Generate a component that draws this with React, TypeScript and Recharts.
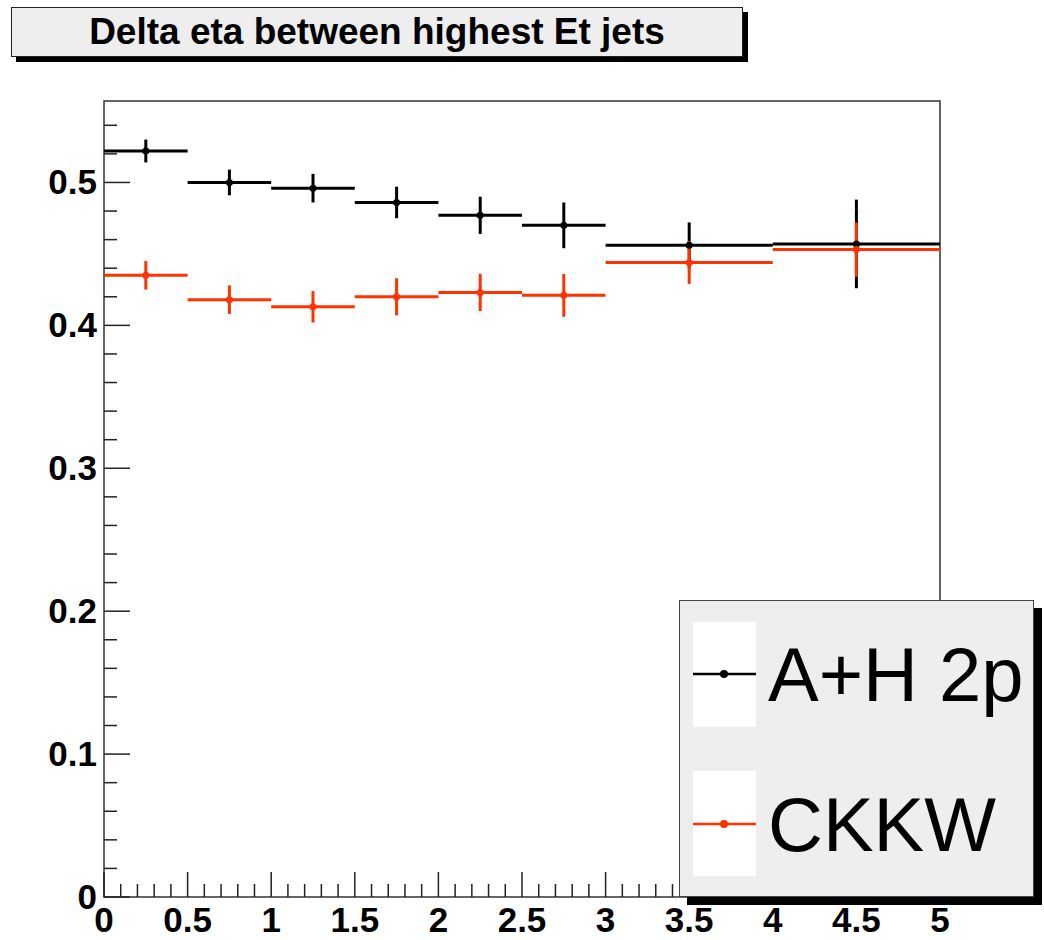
import { ComposedChart, Scatter, ErrorBar, XAxis, YAxis, ReferenceArea, Legend } from 'recharts';

// bin edges (variable width in the last two bins)
const binLow = [0, 0.5, 1, 1.5, 2, 2.5, 3, 4];
const binHigh = [0.5, 1, 1.5, 2, 2.5, 3, 4, 5];

const ahValues = [0.522, 0.5, 0.496, 0.486, 0.477, 0.47, 0.456, 0.457];
const ahErrors = [0.008, 0.009, 0.01, 0.011, 0.013, 0.016, 0.016, 0.031];

const ckkwValues = [0.435, 0.418, 0.413, 0.42, 0.423, 0.421, 0.444, 0.453];
const ckkwErrors = [0.01, 0.01, 0.011, 0.013, 0.013, 0.015, 0.015, 0.019];

const seriesNames = ['A+H 2p', 'CKKW'];
const seriesColors = ['#000000', '#ff3300'];

const xTicks = [
    0, 0.1, 0.2, 0.3, 0.4, 0.5, 0.6, 0.7, 0.8, 0.9,
    1, 1.1, 1.2, 1.3, 1.4, 1.5, 1.6, 1.7, 1.8, 1.9,
    2, 2.1, 2.2, 2.3, 2.4, 2.5, 2.6, 2.7, 2.8, 2.9,
    3, 3.1, 3.2, 3.3, 3.4, 3.5, 3.6, 3.7, 3.8, 3.9,
    4, 4.1, 4.2, 4.3, 4.4, 4.5, 4.6, 4.7, 4.8, 4.9, 5,
];
const yTicks = [
    0, 0.02, 0.04, 0.06, 0.08, 0.1, 0.12, 0.14, 0.16, 0.18,
    0.2, 0.22, 0.24, 0.26, 0.28, 0.3, 0.32, 0.34, 0.36, 0.38,
    0.4, 0.42, 0.44, 0.46, 0.48, 0.5, 0.52, 0.54,
];

const Y_MAX = 0.557;
const FONT = '"Liberation Sans", Arial, Helvetica, sans-serif';

function toPoints(values: number[], errors: number[]) {
    return values.map((v, i) => ({
        x: (binLow[i] + binHigh[i]) / 2,
        y: v,
        ex: (binHigh[i] - binLow[i]) / 2,
        ey: errors[i],
    }));
}

const ahData = toPoints(ahValues, ahErrors);
const ckkwData = toPoints(ckkwValues, ckkwErrors);

function XTick(props: any) {
    const { x, y, payload } = props;
    const v = payload.value;
    const major = Math.abs(v * 2 - Math.round(v * 2)) < 1e-6;
    return (
        <g>
            <line x1={x} x2={x} y1={y} y2={y - (major ? 25 : 13)} stroke="#222" strokeWidth={1.5} />
            {major && (
                <text x={x} y={y + 35} textAnchor="middle" fontSize={35} fontWeight="bold" fontFamily={FONT} fill="#000">
                    {String(v)}
                </text>
            )}
        </g>
    );
}

function YTick(props: any) {
    const { x, y, payload } = props;
    const v = payload.value;
    const major = Math.abs(v * 10 - Math.round(v * 10)) < 1e-6;
    return (
        <g>
            <line x1={x} x2={x + (major ? 26 : 13)} y1={y} y2={y} stroke="#222" strokeWidth={1.5} />
            {major && (
                <text x={x - 7} y={y + 12} textAnchor="end" fontSize={35} fontWeight="bold" fontFamily={FONT} fill="#000">
                    {v === 0 ? '0' : v.toFixed(1)}
                </text>
            )}
        </g>
    );
}

function LegendBox() {
    const rows = [73, 223];
    const boxes = [21, 170];
    return (
        <div
            style={{
                width: 355,
                height: 297,
                boxSizing: 'border-box',
                background: '#eeeeee',
                border: '1px solid #444',
                boxShadow: '8px 8px 0 #000',
            }}
        >
            <svg width={353} height={295} style={{ display: 'block' }}>
                {seriesNames.map((name, i) => (
                    <g key={name}>
                        <rect x={13} y={boxes[i]} width={63} height={105} fill="#fff" />
                        <line x1={13} x2={76} y1={rows[i]} y2={rows[i]} stroke={seriesColors[i]} strokeWidth={2.5} />
                        <circle cx={44} cy={rows[i]} r={4} fill={seriesColors[i]} />
                        <text x={88} y={rows[i] + 27} fontSize={76} fontFamily={FONT} fill="#000">
                            {name}
                        </text>
                    </g>
                ))}
            </svg>
        </div>
    );
}

const dot = (color: string) => (p: any) => <circle cx={p.cx} cy={p.cy} r={3.5} fill={color} />;

export default function App() {
    return (
        <div style={{ position: 'absolute', left: 0, top: 0, width: 1044, height: 940, background: '#fff', fontFamily: FONT }}>
            <div
                style={{
                    position: 'absolute',
                    left: 11,
                    top: 7,
                    width: 732,
                    height: 50,
                    boxSizing: 'border-box',
                    background: '#eeeeee',
                    border: '1px solid #222',
                    boxShadow: '5px 5px 0 #000',
                    textAlign: 'center',
                    lineHeight: '48px',
                    fontSize: 37,
                    fontWeight: 'bold',
                    color: '#000',
                    zIndex: 2,
                }}
            >
                Delta eta between highest Et jets
            </div>

            <ComposedChart width={1044} height={940} margin={{ top: 101, right: 104, bottom: 0, left: 0 }}>
                <XAxis
                    type="number"
                    dataKey="x"
                    domain={[0, 5]}
                    ticks={xTicks}
                    interval={0}
                    height={43}
                    tickSize={0}
                    tickMargin={0}
                    tickLine={false}
                    axisLine={false}
                    tick={<XTick />}
                    allowDataOverflow
                />
                <YAxis
                    type="number"
                    dataKey="y"
                    domain={[0, Y_MAX]}
                    ticks={yTicks}
                    interval={0}
                    width={104}
                    tickSize={0}
                    tickMargin={0}
                    tickLine={false}
                    axisLine={false}
                    tick={<YTick />}
                    allowDataOverflow
                />
                <ReferenceArea x1={0} x2={5} y1={0} y2={Y_MAX} fill="none" stroke="#333" strokeWidth={1.5} />
                <Scatter name={seriesNames[0]} data={ahData} fill={seriesColors[0]} shape={dot(seriesColors[0])} isAnimationActive={false}>
                    <ErrorBar dataKey="ex" direction="x" width={0} stroke={seriesColors[0]} strokeWidth={3} isAnimationActive={false} />
                    <ErrorBar dataKey="ey" direction="y" width={0} stroke={seriesColors[0]} strokeWidth={3} isAnimationActive={false} />
                </Scatter>
                <Scatter name={seriesNames[1]} data={ckkwData} fill={seriesColors[1]} shape={dot(seriesColors[1])} isAnimationActive={false}>
                    <ErrorBar dataKey="ex" direction="x" width={0} stroke={seriesColors[1]} strokeWidth={3} isAnimationActive={false} />
                    <ErrorBar dataKey="ey" direction="y" width={0} stroke={seriesColors[1]} strokeWidth={3} isAnimationActive={false} />
                </Scatter>
                <Legend
                    layout="vertical"
                    align="center"
                    verticalAlign="middle"
                    content={() => <LegendBox />}
                    wrapperStyle={{ left: 679, top: 600, width: 355, height: 297 }}
                />
            </ComposedChart>
        </div>
    );
}
